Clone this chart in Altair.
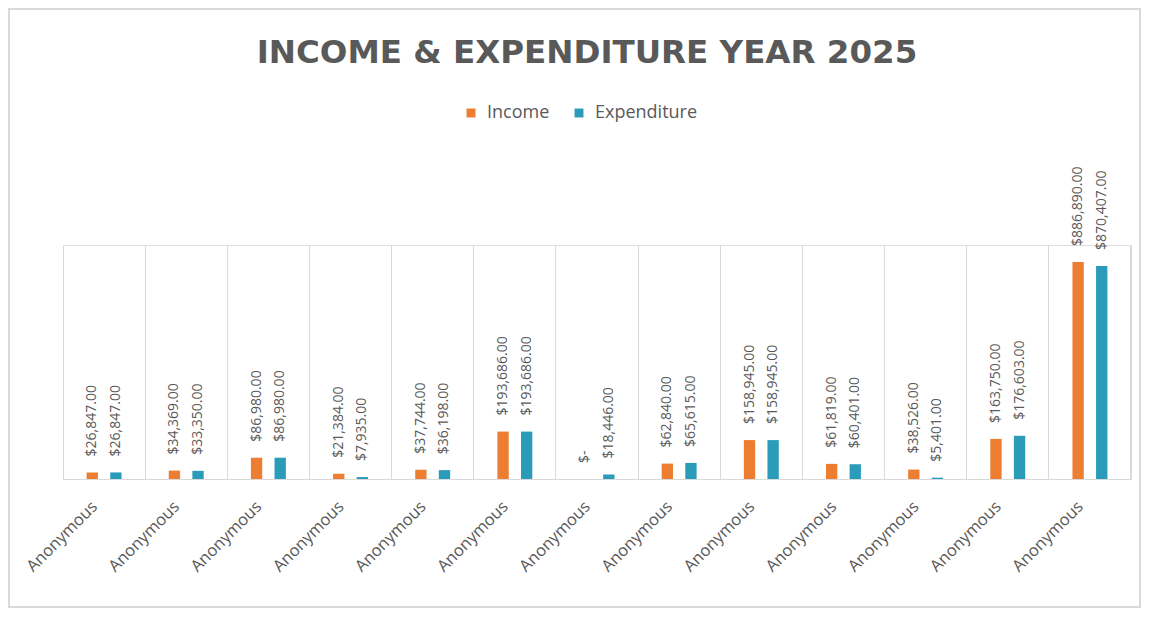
import altair as alt
import pandas as pd

# ---- data ----
names = ["Anonymous"] * 13
income = [26847, 34369, 86980, 21384, 37744, 193686, 0, 62840, 158945, 61819, 38526, 163750, 886890]
expenditure = [26847, 33350, 86980, 7935, 36198, 193686, 18446, 65615, 158945, 60401, 5401, 176603, 870407]
series = ["Income", "Expenditure"]
colors = ["#ED7D31", "#2B9BBA"]
title_text = "INCOME & EXPENDITURE YEAR 2025"

keys = [f"{i:02d}|{n}" for i, n in enumerate(names)]
rows = []
for k, inc, exp in zip(keys, income, expenditure):
    rows.append({"key": k, "series": "Income", "value": inc})
    rows.append({"key": k, "series": "Expenditure", "value": exp})
df = pd.DataFrame(rows)

W, H = 1068, 234
GRID = "#d9d9d9"
TXT = "#595959"

base = alt.Chart(df).transform_calculate(
    label="datum.value == 0 ? '$-' : '$' + format(datum.value, ',.2f')"
).encode(
    x=alt.X("key:N", sort=keys, title=None,
            scale=alt.Scale(paddingInner=0, paddingOuter=0),
            axis=alt.Axis(bandPosition=0, labelOffset=-15,
                          labelAlign="right", labelBaseline="top",
                          labelExpr="split(datum.value, '|')[1]",
                          labelAngle=-45, labelFontSize=16.5, labelFont="Open Sans",
                          labelColor=TXT, labelPadding=19, ticks=False,
                          grid=True, gridColor=GRID, domainColor=GRID)),
    xOffset=alt.XOffset("series:N", sort=series,
                        scale=alt.Scale(paddingInner=0.52, paddingOuter=1)),
    y=alt.Y("value:Q", scale=alt.Scale(domain=[0, 956000]), axis=None),
)

bars = base.mark_bar().encode(
    color=alt.Color("series:N", sort=series,
                    scale=alt.Scale(domain=series, range=colors),
                    legend=alt.Legend(title=None, orient="none", direction="horizontal",
                                      legendX=399, legendY=-141,
                                      symbolType="square", symbolSize=80,
                                      symbolStrokeWidth=0, labelOffset=7,
                                      labelFontSize=18, labelFont="Open Sans",
                                      labelColor=TXT, columnPadding=20))
)

labels = base.mark_text(angle=270, align="left", baseline="middle", dx=16,
                        fontSize=14, font="Open Sans", color=TXT).encode(
    text="label:N"
)

right_edge = alt.Chart(df).mark_rule(color=GRID).encode(
    x=alt.value(W), y=alt.value(0), y2=alt.value(H)
)

border = alt.Chart(df).mark_rect(fill=None, stroke=GRID, strokeWidth=1.5).encode(
    x=alt.value(-54), x2=alt.value(W + 9), y=alt.value(-236), y2=alt.value(H + 128)
)

chart = alt.layer(border, bars, labels, right_edge).properties(
    width=W, height=H,
    autosize=alt.AutoSizeParams(type="none"),
    padding={"left": 55, "top": 237, "right": 10, "bottom": 130},
    title=alt.TitleParams(title_text, anchor="middle", orient="top", dx=-10,
                          offset=-61, fontSize=32.5, font="DejaVu Sans",
                          fontWeight="bold", color=TXT),
).configure_view(stroke=None).configure(background="white")

chart.save("out.html", embed_options={"renderer": "svg", "actions": False})
